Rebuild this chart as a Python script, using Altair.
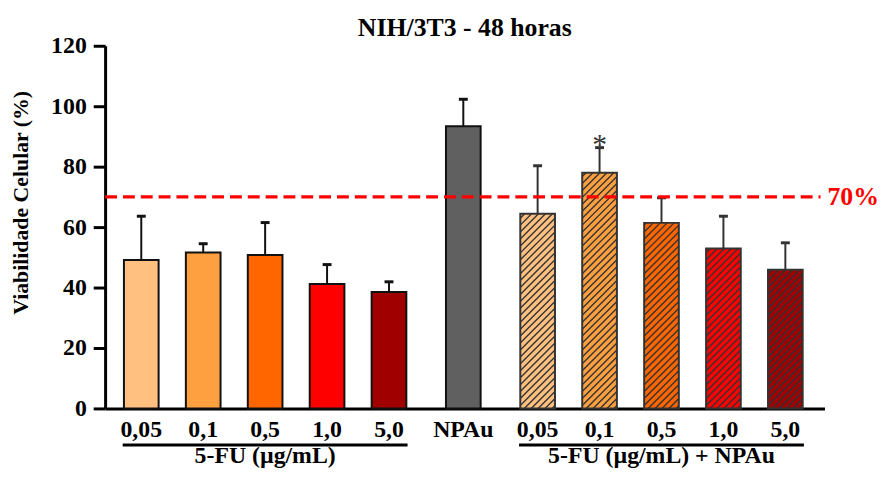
import altair as alt
import pandas as pd
import numpy as np

# ---- data ----
labels = ["0,05", "0,1", "0,5", "1,0", "5,0", "NPAu", "0,05", "0,1", "0,5", "1,0", "5,0"]
positions = [1, 2, 3, 4, 5, 6.2, 7.4, 8.4, 9.4, 10.4, 11.4]
means = [49.1, 51.6, 50.8, 41.2, 38.5, 93.4, 64.4, 78.0, 61.4, 52.9, 45.9]
errors = [14.5, 2.9, 10.7, 6.4, 3.4, 8.9, 15.9, 8.3, 8.3, 10.7, 8.9]
hatched = [False] * 6 + [True] * 5
fills = ["#FFC080", "#FFA040", "#FF6600", "#FF0000", "#A00000", "#606060",
         "#FFC080", "#FFA040", "#FF6600", "#FF0000", "#A00000"]
strokes = ["#111111"] * 6 + ["#333333"] * 5
group_names = ["5-FU (µg/mL)", "5-FU (µg/mL) + NPAu"]
group_members = [[0, 1, 2, 3, 4], [6, 7, 8, 9, 10]]
threshold = 70
star_index = 7
y_ticks = [0, 20, 40, 60, 80, 100, 120]

# ---- layout ----
W, H = 726, 366
X0 = 0.416
X1 = X0 + W / 62.5
Y0, Y1 = 0, 120
SX = W / (X1 - X0)
SY = H / (Y1 - Y0)
HALF = 17.5 / SX
CAP = 4.5 / SX
FONT = "Liberation Serif"

df = pd.DataFrame({
    "label": labels, "pos": positions, "mean": means, "err": errors,
    "hatched": hatched, "fill": fills, "stroke": strokes,
})
df["xl"] = df["pos"] - HALF
df["xr"] = df["pos"] + HALF
df["top"] = df["mean"] + df["err"]
df["cl"] = df["pos"] - CAP
df["cr"] = df["pos"] + CAP
df["zero"] = 0

# hatch segments (45 degree, clipped to each hatched bar)
segs = []
bw = 2 * HALF * SX
for _, r in df[df["hatched"]].iterrows():
    hb = r["mean"] * SY
    for c in np.arange(-bw + 3, hb, 7.0):
        xs = max(0.0, -c)
        xe = min(bw, hb - c)
        if xe > xs:
            segs.append({
                "x": r["xl"] + xs / SX, "x2": r["xl"] + xe / SX,
                "y": (xs + c) / SY, "y2": (xe + c) / SY,
            })
hatch_df = pd.DataFrame(segs)

xscale = alt.Scale(domain=[X0, X1], nice=False, zero=False)
yscale = alt.Scale(domain=[Y0, Y1], nice=False)
xaxis = alt.Axis(title=None, labels=False, ticks=False, grid=False,
                 domainColor="black", domainWidth=3)
yaxis = alt.Axis(
    values=y_ticks, grid=False,
    domainColor="black", domainWidth=3, tickColor="black", tickWidth=3, tickSize=12,
    labelFont=FONT, labelFontSize=24, labelFontWeight="bold", labelColor="black",
    labelPadding=7,
    title="Viabilidade Celular (%)", titleFont=FONT, titleFontSize=22,
    titleFontWeight="bold", titleColor="black", titleX=-85, titleY=158,
    titleAngle=270, titleBaseline="middle", titleAlign="center")


def X(f):
    return alt.X(f, scale=xscale, axis=xaxis)


def Y(f):
    return alt.Y(f, scale=yscale, axis=yaxis)


base = alt.Chart(df)

bars = base.mark_rect().encode(
    x=X("xl:Q"), x2="xr:Q", y=Y("mean:Q"), y2="zero:Q",
    fill=alt.Fill("fill:N", scale=None),
)

hatch = alt.Chart(hatch_df).mark_rule(color="#333333", strokeWidth=1.4).encode(
    x=X("x:Q"), x2="x2:Q", y=Y("y:Q"), y2="y2:Q",
)

outline = base.mark_rect(fillOpacity=0, strokeWidth=2).encode(
    x=X("xl:Q"), x2="xr:Q", y=Y("mean:Q"), y2="zero:Q",
    stroke=alt.Stroke("stroke:N", scale=None),
)

whisk = base.mark_rule(strokeWidth=2).encode(
    x=X("pos:Q"), y=Y("mean:Q"), y2="top:Q",
    color=alt.Color("stroke:N", scale=None),
)

caps = base.mark_rule(strokeWidth=3).encode(
    x=X("cl:Q"), x2="cr:Q", y=Y("top:Q"),
    color=alt.Color("stroke:N", scale=None),
)

thr_df = pd.DataFrame({"v": [threshold], "t": [f"{threshold}%"]})
dash = alt.Chart(thr_df).mark_rule(color="#FF0000", strokeWidth=3.5, strokeDash=[12, 6]).encode(
    x=alt.value(0), x2=alt.value(W - 4), y=Y("v:Q"),
)
dash_text = alt.Chart(thr_df).mark_text(
    align="left", baseline="middle", font=FONT, fontSize=26, fontWeight="bold",
    color="#FF0000", dx=3).encode(
    x=alt.value(W), y=Y("v:Q"), text="t:N")

star = alt.Chart(df.iloc[[star_index]]).mark_text(
    text="*", font=FONT, fontSize=30, color="#333333", baseline="alphabetic", dy=6).encode(
    x=X("pos:Q"), y=Y("top:Q"),
)

xlab = base.mark_text(font=FONT, fontSize=24, fontWeight="bold", color="black",
                      baseline="middle").encode(
    x=X("pos:Q"), y=alt.value(H + 22), text="label:N",
)

grp_rows = []
for name, mem in zip(group_names, group_members):
    lo = df.loc[mem[0], "xl"] - 0.02
    hi = df.loc[mem[-1], "xr"] + 0.02
    grp_rows.append({"name": name, "lo": lo, "hi": hi, "mid": (lo + hi) / 2})
grp_df = pd.DataFrame(grp_rows)

underline = alt.Chart(grp_df).mark_rule(color="black", strokeWidth=3).encode(
    x=X("lo:Q"), x2="hi:Q", y=alt.value(H + 37),
)
grp_text = alt.Chart(grp_df).mark_text(font=FONT, fontSize=24, fontWeight="bold",
                                       color="black", baseline="alphabetic").encode(
    x=X("mid:Q"), y=alt.value(H + 55), text="name:N",
)

chart = alt.layer(
    bars, hatch, outline, whisk, caps, dash, dash_text, star, xlab, underline, grp_text
).properties(
    width=W, height=H,
    title=alt.Title("NIH/3T3 - 48 horas", font=FONT, fontSize=26, fontWeight="bold",
                    color="black", anchor="middle", frame="group", offset=0, dy=7),
    autosize="none",
    padding={"left": 98, "top": 36, "right": 54, "bottom": 59},
).configure_view(stroke=None)

chart.save("out.html", embed_options={"renderer": "svg", "actions": False})
